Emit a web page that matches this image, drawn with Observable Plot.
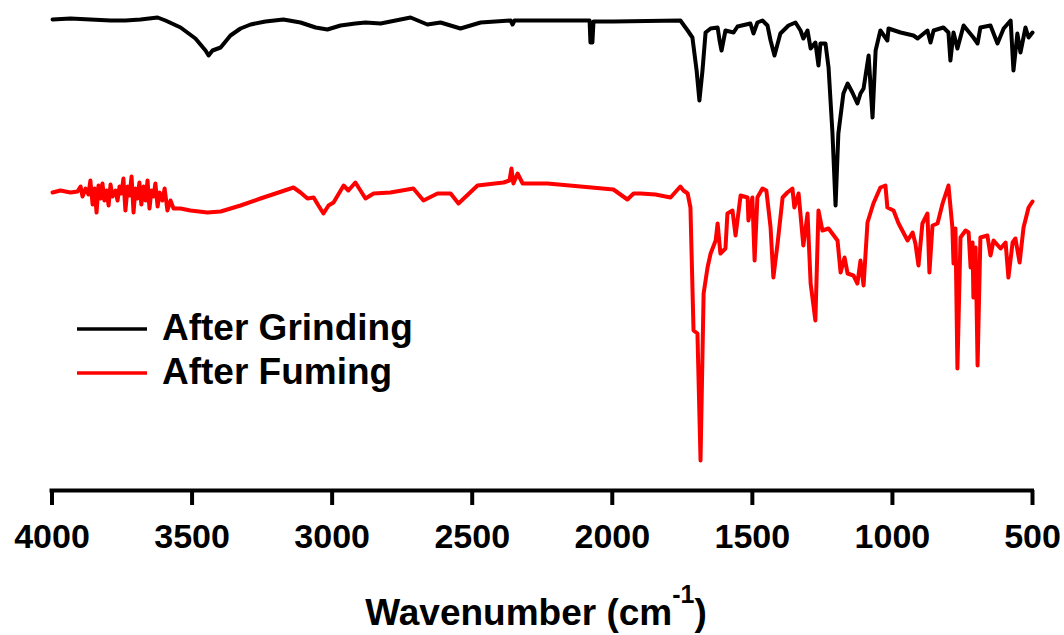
<!DOCTYPE html>
<html>
<head>
<meta charset="utf-8">
<script src="https://cdn.jsdelivr.net/npm/d3@7"></script>
<script src="https://cdn.jsdelivr.net/npm/@observablehq/plot@0.6"></script>
<style>
  html, body { margin: 0; padding: 0; background: #fff; }
  #chart { position: relative; width: 1064px; height: 635px; }
  svg { font-family: "Liberation Sans", Arial, sans-serif; }
</style>
</head>
<body>
<div id="chart"></div>
<script>
// Wavenumber ticks (cm^-1)
const xTicks = [4000, 3500, 3000, 2500, 2000, 1500, 1000, 500];

// Series labels and colours
const seriesNames = ["After Grinding", "After Fuming"];
const seriesColors = ["#000000", "#ff0000"];

// After Grinding: wavenumber (cm^-1) and transmittance (a.u., offset)
const grindWn = [3998,3934,3863,3791,3738,3684,3623,3595,3541,3488,3452,3441,3427,3398,3363,3327,3291,3238,3174,3113,3059,3017,2970,2917,2881,2827,2720,2660,2613,2542,2470,2363,2356,2349,2113,2081,2078,2071,2067,1996,1757,1731,1714,1699,1689,1678,1667,1649,1624,1617,1610,1603,1596,1567,1553,1507,1496,1482,1464,1446,1435,1421,1400,1371,1346,1328,1318,1303,1292,1275,1264,1257,1239,1228,1214,1203,1193,1175,1160,1143,1125,1114,1103,1085,1071,1060,1043,1018,1014,971,925,910,875,864,853,818,800,793,782,768,746,711,696,686,650,625,603,578,568,554,543,525,514,500];
const grindT = [471,472,471,470,470,471,473,470,463,452,440,435,440,443,455,462,466,469,471,468,463,461,465,467,468,467,473,466,468,462,468,470,466,470,470,470,448,448,469,469,470,460,453,420,390,420,458,462,463,450,440,450,460,458,464,467,457,468,470,465,450,435,457,465,468,460,452,460,442,448,425,447,447,423,357,285,357,397,407,398,387,397,402,435,373,440,460,450,462,458,455,452,460,448,460,463,458,430,458,442,465,453,447,463,465,447,462,470,420,457,438,463,453,458];

// After Fuming: wavenumber (cm^-1) and transmittance (a.u., offset)
const fumeWn = [3998,3970,3934,3909,3898,3891,3880,3870,3863,3855,3848,3841,3834,3827,3820,3813,3805,3798,3791,3784,3773,3766,3759,3752,3745,3738,3730,3723,3716,3709,3702,3695,3688,3681,3673,3666,3659,3652,3645,3638,3631,3623,3616,3606,3598,3588,3577,3566,3541,3506,3445,3398,3327,3256,3202,3138,3113,3088,3066,3049,3031,3013,2995,2959,2942,2917,2899,2881,2852,2792,2710,2674,2624,2577,2549,2481,2388,2367,2360,2353,2338,2320,2231,1996,1946,1924,1899,1846,1792,1757,1746,1731,1721,1710,1696,1685,1674,1660,1649,1631,1624,1614,1596,1589,1571,1560,1542,1517,1514,1500,1492,1482,1464,1450,1435,1425,1410,1392,1375,1357,1350,1335,1318,1303,1292,1275,1264,1250,1228,1196,1185,1171,1160,1139,1125,1114,1103,1089,1068,1043,1025,1018,996,978,946,928,918,907,893,875,868,857,839,821,800,786,782,775,768,757,739,728,721,714,711,703,696,686,661,650,639,614,596,586,571,561,546,532,514,500];
const fumeT = [298,300,298,299,304,294,302,296,310,286,302,278,305,292,307,290,300,285,306,294,300,290,304,297,312,280,304,295,314,278,302,292,308,286,304,290,310,282,300,294,307,284,298,290,302,280,290,282,282,280,278,279,285,292,297,303,298,292,293,285,277,285,288,305,300,308,300,292,297,298,302,290,297,297,287,305,308,310,322,307,317,307,307,301,291,297,297,296,293,304,300,297,283,160,157,30,197,223,237,250,267,237,242,277,280,255,295,293,270,293,230,293,302,300,263,213,247,293,298,302,283,297,245,277,207,170,280,260,262,250,218,233,217,215,207,230,205,268,287,303,305,283,280,267,250,258,247,225,267,277,218,265,267,287,305,263,227,262,122,253,260,258,223,248,193,243,125,253,255,235,250,242,248,213,248,252,228,263,283,289];

const grinding = grindWn.map((wn, i) => ({wn, t: grindT[i], series: seriesNames[0]}));
const fuming = fumeWn.map((wn, i) => ({wn, t: fumeT[i], series: seriesNames[1]}));

const plot = Plot.plot({
  width: 1064,
  height: 635,
  marginLeft: 51.5,
  marginRight: 32,
  marginTop: 0,
  marginBottom: 145,
  style: {fontFamily: "'Liberation Sans', Arial, sans-serif", background: "#fff", overflow: "visible"},
  x: {domain: [4000, 500]},
  y: {domain: [0, 490], axis: null},
  marks: [
    Plot.lineY(grinding, {x: "wn", y: "t", stroke: seriesColors[0], strokeWidth: 4, strokeLinejoin: "round"}),
    Plot.lineY(fuming, {x: "wn", y: "t", stroke: seriesColors[1], strokeWidth: 4, strokeLinejoin: "round"}),
    Plot.ruleY([0], {stroke: "#000", strokeWidth: 4, strokeLinecap: "square"}),
    Plot.axisX({
      ticks: xTicks,
      tickSize: 15,
      tickPadding: 18,
      strokeWidth: 4,
      fontSize: 34,
      fontWeight: "bold",
      fill: "#000",
      label: null,
      tickFormat: d => String(d)
    })
  ]
});

document.getElementById("chart").appendChild(plot);

const svg = d3.select(plot);

// Axis title with superscript
const title = svg.append("text")
  .attr("x", 536)
  .attr("y", 625)
  .attr("text-anchor", "middle")
  .attr("font-size", 37)
  .attr("font-weight", "bold")
  .attr("fill", "#000");
title.append("tspan").text("Wavenumber (cm");
title.append("tspan").attr("font-size", 25).attr("dy", -22).text("-1");
title.append("tspan").attr("dy", 22).text(")");

// Legend
const legend = svg.append("g").attr("text-anchor", "start");
seriesNames.forEach((name, i) => {
  const yy = 329 + i * 44;
  legend.append("line")
    .attr("x1", 77).attr("x2", 147)
    .attr("y1", yy).attr("y2", yy)
    .attr("stroke", seriesColors[i])
    .attr("stroke-width", 3.5);
  legend.append("text")
    .attr("x", 162)
    .attr("y", yy + 11)
    .attr("text-anchor", "start")
    .attr("font-size", 37)
    .attr("font-weight", "bold")
    .attr("fill", "#000")
    .text(name);
});
</script>
</body>
</html>
